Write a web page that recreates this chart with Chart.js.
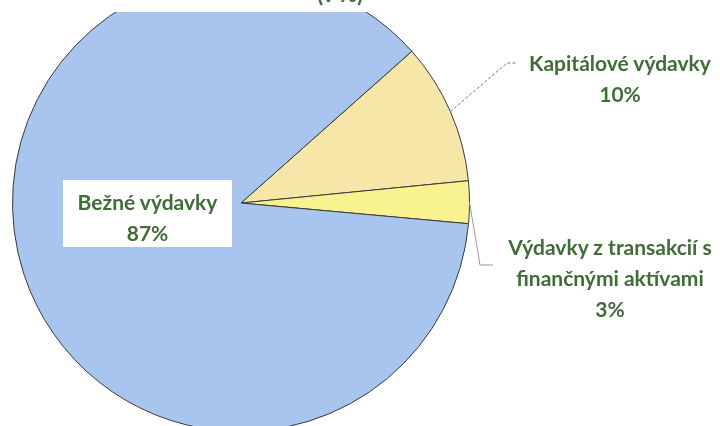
<!DOCTYPE html>
<html>
<head>
<meta charset="utf-8">
<script src="https://cdn.jsdelivr.net/npm/chart.js@4/dist/chart.umd.min.js"></script>
<style>
  html, body { margin: 0; padding: 0; background: #fff; }
  #page { position: relative; width: 720px; height: 426px; overflow: hidden; background: #fff; }
  #wrap { position: absolute; left: 0; top: -40px; width: 720px; height: 500px; }
  .lbl { position: absolute; font-family: Lato, "Open Sans", sans-serif; font-weight: 700; font-size: 21px;
         color: #3e6d36; text-align: center; line-height: 31px; white-space: nowrap; }
  #topband { position: absolute; left: 0; top: 0; width: 720px; height: 12px; background: #fff; overflow: hidden; }
  #title { position: absolute; left: 300px; top: -20px; width: 80px; text-align: center;
           font-family: Lato, sans-serif; font-weight: 700; font-size: 22px; color: #3e6d36; }
  #bezneBox { position: absolute; left: 63px; top: 180px; width: 169px; height: 67px; background: #fff; }
</style>
</head>
<body>
<div id="page">
  <div id="wrap"><canvas id="pie"></canvas></div>
  <div id="topband"><div id="title">(v %)</div></div>
  <div id="bezneBox"></div>
  <div class="lbl" style="left:63px; top:186px; width:169px;">Bežné výdavky<br>87%</div>
  <div class="lbl" style="left:520px; top:47px; width:200px;">Kapitálové výdavky<br>10%</div>
  <div class="lbl" style="left:500px; top:231px; width:220px;">Výdavky z transakcií s<br>finančnými aktívami<br>3%</div>
</div>
<script>
const categories = ["Kapitálové výdavky", "Výdavky z transakcií s finančnými aktívami", "Bežné výdavky"];
const shares = [10, 3, 87];
const sliceColors = ["#f6e7a8", "#f9f38f", "#a7c5ef"];

// lomene ciary k popisom (suradnice stranky, wrap je posunuty o 40px)
const OFFSET_Y = 40;
const leaders = [
  { index: 0, points: [[507, 63], [516, 63]], color: "#777", dash: [3, 2] },
  { index: 1, points: [[480, 265], [493, 265]], color: "#999", dash: [] }
];

const leaderPlugin = {
  id: "leaders",
  afterDatasetsDraw(chart) {
    const ctx = chart.ctx;
    const arcs = chart.getDatasetMeta(0).data;
    leaders.forEach(l => {
      const arc = arcs[l.index];
      const mid = (arc.startAngle + arc.endAngle) / 2;
      const sx = arc.x + Math.cos(mid) * arc.outerRadius;
      const sy = arc.y + Math.sin(mid) * arc.outerRadius;
      ctx.save();
      ctx.strokeStyle = l.color;
      ctx.lineWidth = 1;
      ctx.setLineDash(l.dash);
      ctx.beginPath();
      ctx.moveTo(sx, sy);
      l.points.forEach(p => ctx.lineTo(p[0], p[1] + OFFSET_Y));
      ctx.stroke();
      ctx.restore();
    });
  }
};

new Chart(document.getElementById("pie"), {
  type: "pie",
  data: {
    labels: categories,
    datasets: [{
      data: shares,
      backgroundColor: sliceColors,
      borderColor: "#3a3a3a",
      borderWidth: 1
    }]
  },
  options: {
    responsive: true,
    maintainAspectRatio: false,
    animation: false,
    rotation: 48.4,
    layout: { padding: { left: 12, right: 250, top: 14, bottom: 28 } },
    plugins: {
      legend: { display: false },
      tooltip: { enabled: false }
    }
  },
  plugins: [leaderPlugin]
});
</script>
</body>
</html>
